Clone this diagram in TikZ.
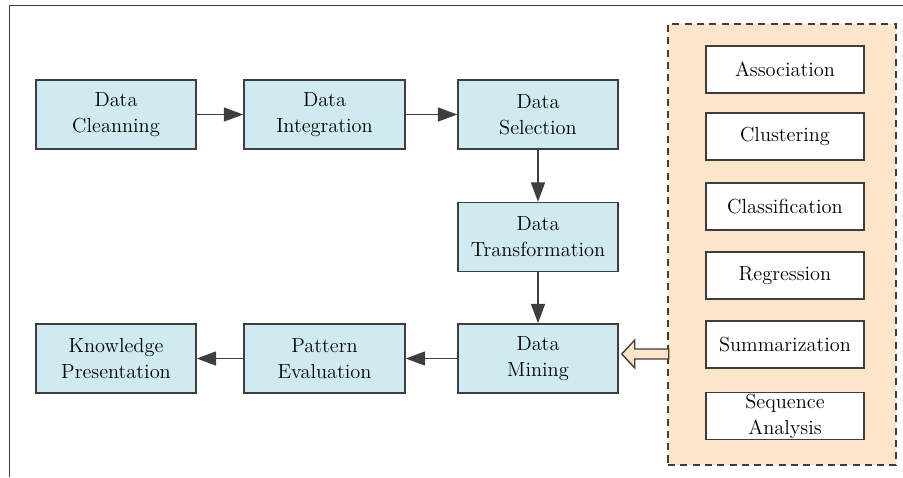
\documentclass[tikz,border=0pt]{standalone}
\usepackage{xcolor}
\usepackage{tikz}
\usetikzlibrary{arrows.meta,positioning,calc}

\definecolor{stepfill}{HTML}{CFEBF1}
\definecolor{taskfill}{HTML}{FDE5CB}
\definecolor{edge}{HTML}{3E3E3E}

\begin{document}
\begin{tikzpicture}[
    x=0.02cm, y=-0.02cm,
    box/.style={rectangle, draw=edge, line width=0.9pt, fill=stepfill,
                minimum width=3.2cm, minimum height=1.38cm, align=center,
                inner sep=1pt, font=\fontsize{11.6}{14.8}\selectfont},
    task/.style={rectangle, draw=edge, line width=0.9pt, fill=white,
                 minimum width=3.16cm, minimum height=0.94cm, align=center,
                 inner sep=0pt, font=\fontsize{11.6}{14.8}\selectfont},
    arr/.style={-{Triangle[length=11pt,width=8pt]}, draw=edge, fill=edge, line width=0.8pt},
    hollow/.style={draw=edge, line width=0.8pt, fill=taskfill},
  ]

  \useasboundingbox (0,0) rectangle (903,477);

  % frame
  \draw[edge, line width=1pt] (9.5,477) -- (9.5,5.5) -- (903,5.5);

  % Top row
  \node[box] (clean) at (116, 114.5) {Data\\Cleanning};
  \node[box, minimum width=3.22cm] (integ) at (324.5, 114.5) {Data\\Integration};
  \node[box] (select) at (538, 114.5) {Data\\Selection};

  % Middle
  \node[box] (trans) at (538, 237) {Data\\Transformation};

  % Bottom row
  \node[box] (mining) at (538, 358.5) {Data\\Mining};
  \node[box, minimum width=3.22cm] (pattern) at (324.5, 358.5) {Pattern\\Evaluation};
  \node[box] (know) at (116, 358.5) {Knowledge\\Presentation};

  % Mining tasks
  \node[draw=edge, line width=0.8pt, dash pattern=on 4pt off 3pt, fill=taskfill,
        minimum width=4.56cm, minimum height=8.82cm] (tasks) at (782, 244.5) {};
  \node[task] (assoc) at (785, 69.5) {Association};
  \node[task] (clust) at (785, 136.5) {Clustering};
  \node[task] (classif) at (785, 206.5) {Classification};
  \node[task] (regr) at (785, 275.5) {Regression};
  \node[task] (summ) at (785, 344.5) {Summarization};
  \node[task, inner ysep=-4pt] (seq) at (785, 416) {Sequence\\Analysis};

  % Arrows
  \draw[arr] (clean) -- (integ);
  \draw[arr] (integ) -- (select);
  \draw[arr] (select) -- (trans);
  \draw[arr] (trans) -- (mining);
  \draw[arr] (mining) -- (pattern);
  \draw[arr] (pattern) -- (know);

  % tasks feed mining
  \coordinate (tip) at ($(mining.east)+(3,-4.5)$);
  \draw[hollow] (tip) -- ++(13,-14) -- ++(0,9) -- ++(34,0) -- ++(0,10)
    -- ++(-34,0) -- ++(0,9) -- cycle;

\end{tikzpicture}
\end{document}
